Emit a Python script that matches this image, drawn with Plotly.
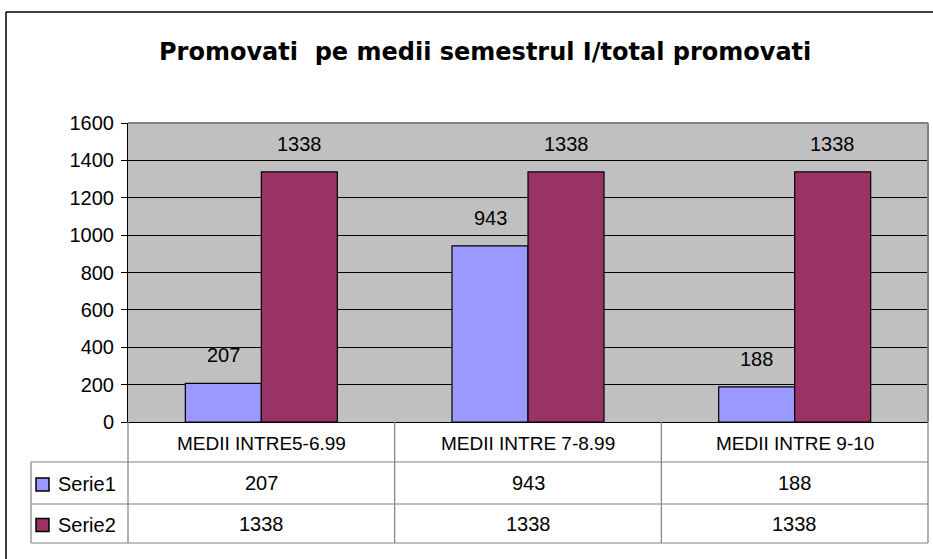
import plotly.graph_objects as go

# data
categories = ['MEDII INTRE5-6.99', 'MEDII INTRE 7-8.99', 'MEDII INTRE 9-10']
serie1 = [207, 943, 188]
serie2 = [1338, 1338, 1338]
series_names = ['Serie1', 'Serie2']
colors = ['#9999FF', '#993366']
title = 'Promovati  pe medii semestrul I/total promovati'

W, H = 933, 559
L, R, T, B = 128, 928, 123, 422  # plot area in pixels
ROW1, ROW2, ROW3 = 462, 504, 543  # table row bottoms
LEG_X = 31
FONT = 'Liberation Sans, Arial, sans-serif'


def px(x):
    return x / W


def py(y):
    return 1 - y / H


def label(x, y, text, size, family=FONT, xanchor='center'):
    return dict(x=px(x), y=py(y), xref='paper', yref='paper', text=text, showarrow=False,
                xanchor=xanchor, yanchor='middle',
                font=dict(size=size, color='black', family=family))


fig = go.Figure()
for name, vals, col in zip(series_names, [serie1, serie2], colors):
    fig.add_trace(go.Bar(x=categories, y=vals, name=name, marker_color=col,
                         marker_line=dict(color='black', width=1.2)))

annotations = []
# value labels above bars
for i, vals in enumerate([serie1, serie2]):
    shift = -38 if i == 0 else 38
    for c, v in zip(categories, vals):
        annotations.append(dict(x=c, y=v, xref='x', yref='y', text=str(v), showarrow=False,
                                xanchor='center', yanchor='middle',
                                xshift=shift, yshift=28, font=dict(size=20, color='black')))

# data table grid
shapes = []
gray = '#808080'
col_w = (R - L) / len(categories)
edges = [L + k * col_w for k in range(len(categories) + 1)]
for x in edges:
    shapes.append(dict(type='line', xref='paper', yref='paper', x0=px(x), x1=px(x),
                       y0=py(B), y1=py(ROW3), line=dict(color=gray, width=1.2)))
shapes.append(dict(type='line', xref='paper', yref='paper', x0=px(LEG_X), x1=px(LEG_X),
                   y0=py(ROW1), y1=py(ROW3), line=dict(color=gray, width=1.2)))
for y in [ROW1, ROW2, ROW3]:
    shapes.append(dict(type='line', xref='paper', yref='paper', x0=px(LEG_X), x1=px(R),
                       y0=py(y), y1=py(y), line=dict(color=gray, width=1.2)))
# plot area border top/right
shapes.append(dict(type='line', xref='paper', yref='paper', x0=px(L), x1=px(R),
                   y0=py(T), y1=py(T), line=dict(color=gray, width=2)))
shapes.append(dict(type='line', xref='paper', yref='paper', x0=px(R), x1=px(R),
                   y0=py(T), y1=py(B), line=dict(color=gray, width=2)))
# outer chart border (left & top)
shapes.append(dict(type='line', xref='paper', yref='paper', x0=px(6), x1=px(6),
                   y0=py(12), y1=0, line=dict(color='black', width=1.5)))
shapes.append(dict(type='line', xref='paper', yref='paper', x0=px(6), x1=1,
                   y0=py(12), y1=py(12), line=dict(color='black', width=1.5)))

for k, c in enumerate(categories):
    cx = (edges[k] + edges[k + 1]) / 2
    annotations.append(label(cx, (B + ROW1) / 2 + 1, c, 19))

rows = [(ROW1, ROW2), (ROW2, ROW3)]
for j, (name, vals, col) in enumerate(zip(series_names, [serie1, serie2], colors)):
    top, bot = rows[j]
    cy = (top + bot) / 2
    shapes.append(dict(type='rect', xref='paper', yref='paper', x0=px(36), x1=px(49),
                       y0=py(cy - 5), y1=py(cy + 8), fillcolor=col,
                       line=dict(color='black', width=1.5)))
    annotations.append(label(56, cy + 1, name, 20, xanchor='left'))
    for k, v in enumerate(vals):
        cx = (edges[k] + edges[k + 1]) / 2
        annotations.append(label(cx, cy, str(v), 20))

annotations.append(label(485, 52, '<b>' + title + '</b>', 24,
                         family='DejaVu Sans, Liberation Sans, sans-serif'))

fig.update_layout(
    width=W, height=H,
    margin=dict(l=0, r=0, t=0, b=0, autoexpand=False),
    paper_bgcolor='white', plot_bgcolor='#C0C0C0',
    font=dict(family=FONT, color='black'),
    barmode='group', bargap=0.43, bargroupgap=0,
    showlegend=False,
    xaxis=dict(domain=[px(L), px(R)], showticklabels=False, ticks='', automargin=False,
               showline=True, linecolor='black', linewidth=1, showgrid=False,
               fixedrange=True),
    yaxis=dict(domain=[py(B), py(T)], range=[0, 1600], dtick=200, automargin=False,
               showgrid=True, gridcolor='black', gridwidth=1,
               showline=True, linecolor='black', linewidth=1,
               ticks='outside', ticklen=6, tickcolor='black', ticklabelstandoff=3,
               tickfont=dict(size=20), zeroline=False, fixedrange=True),
    shapes=shapes, annotations=annotations,
)

fig.write_html('out.html', config={'displayModeBar': False},
               post_script="document.body.style.margin='0';")
